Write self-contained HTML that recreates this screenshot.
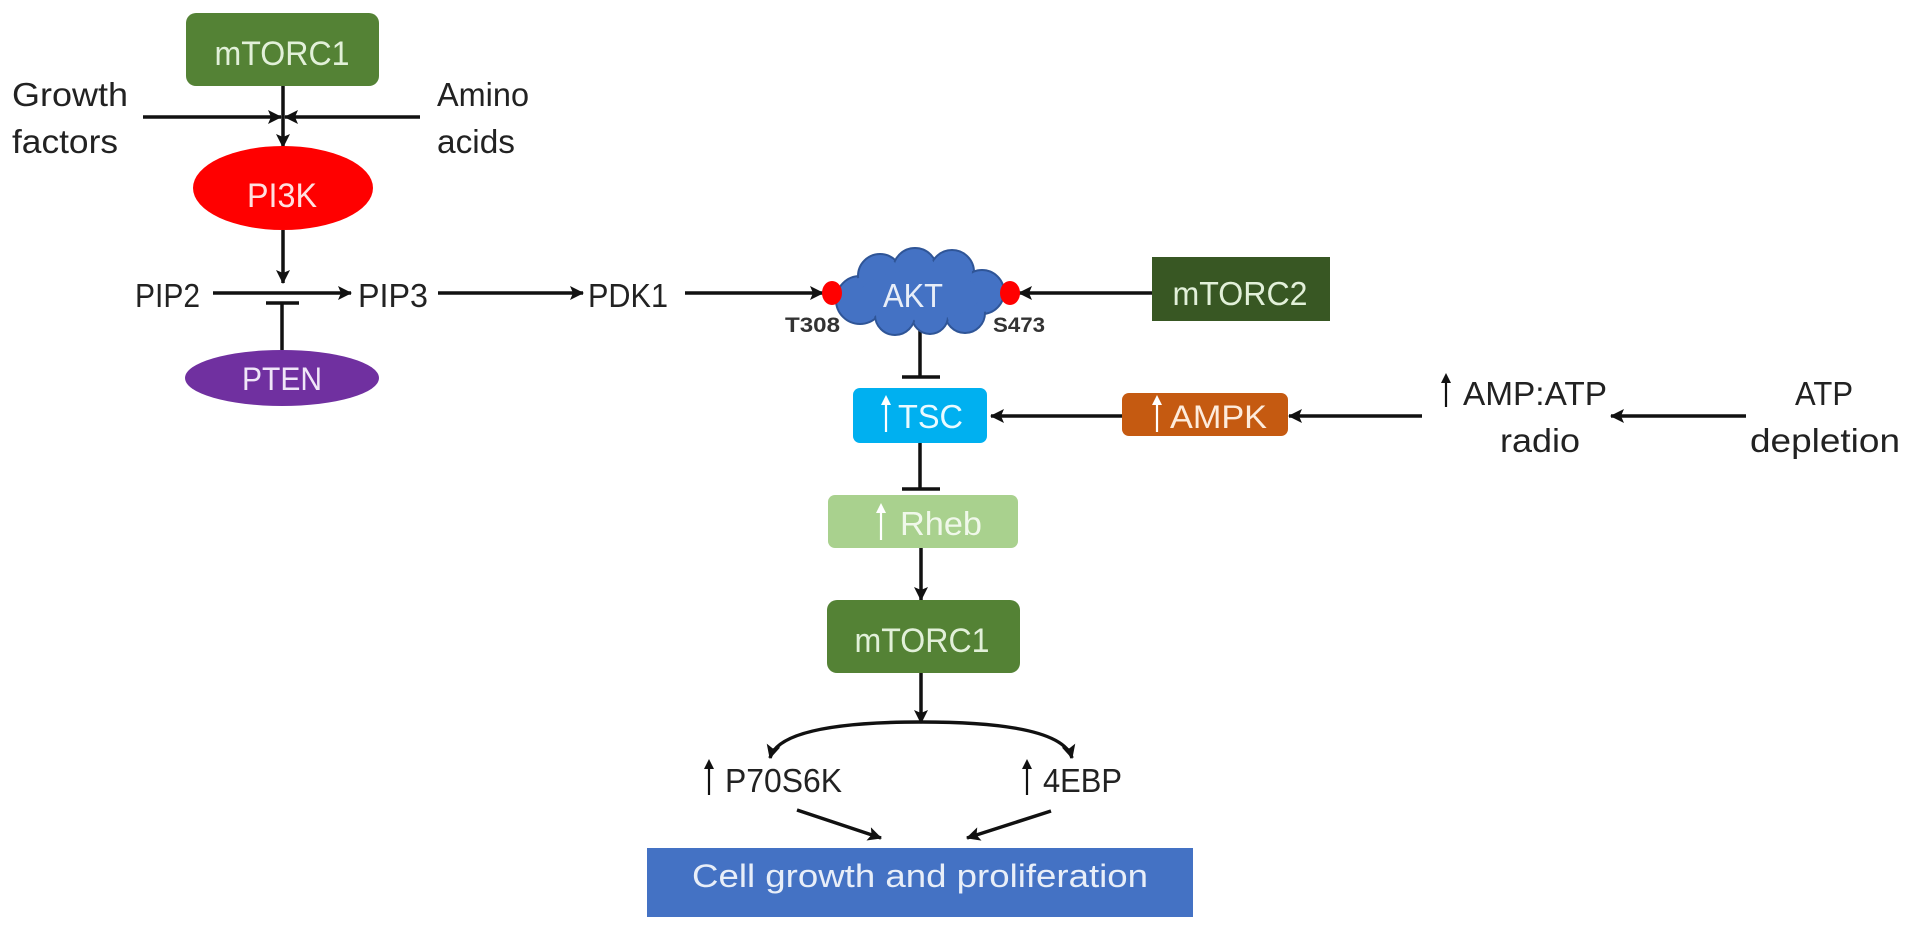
<!DOCTYPE html>
<html><head><meta charset="utf-8"><style>
html,body{margin:0;padding:0;background:#fff;}
svg{display:block;}
text{font-family:"Liberation Sans",sans-serif;}
</style></head><body>
<svg width="1913" height="930" viewBox="0 0 1913 930" xmlns="http://www.w3.org/2000/svg">
<defs>
<marker id="ah" markerWidth="14" markerHeight="14" refX="13" refY="7" orient="auto" markerUnits="userSpaceOnUse">
<path d="M0,0 L14,7 L0,14 L3,7 Z" fill="#111"/>
</marker>
</defs>
<g stroke="#111" stroke-width="3.5" fill="none">
<line x1="143" y1="117" x2="281" y2="117" marker-end="url(#ah)"/>
<line x1="420" y1="117" x2="285" y2="117" marker-end="url(#ah)"/>
<line x1="283" y1="86" x2="283" y2="147" marker-end="url(#ah)"/>
<line x1="283" y1="230" x2="283" y2="283" marker-end="url(#ah)"/>
<line x1="213" y1="293" x2="351" y2="293" marker-end="url(#ah)"/>
<line x1="438" y1="293" x2="583" y2="293" marker-end="url(#ah)"/>
<line x1="282" y1="303" x2="282" y2="350"/>
<line x1="266" y1="303" x2="299" y2="303"/>
<line x1="685" y1="293" x2="823" y2="293" marker-end="url(#ah)"/>
<line x1="1152" y1="293" x2="1019" y2="293" marker-end="url(#ah)"/>
<line x1="920" y1="330" x2="920" y2="377"/>
<line x1="902" y1="377" x2="940" y2="377"/>
<line x1="920" y1="443" x2="920" y2="489"/>
<line x1="902" y1="489" x2="940" y2="489"/>
<line x1="1122" y1="416" x2="991" y2="416" marker-end="url(#ah)"/>
<line x1="1422" y1="416" x2="1289" y2="416" marker-end="url(#ah)"/>
<line x1="1746" y1="416" x2="1611" y2="416" marker-end="url(#ah)"/>
<line x1="921" y1="548" x2="921" y2="600" marker-end="url(#ah)"/>
<line x1="921" y1="673" x2="921" y2="723" marker-end="url(#ah)"/>
<path d="M921,722 Q780,722 770,758" marker-end="url(#ah)"/>
<path d="M921,722 Q1062,722 1072,758" marker-end="url(#ah)"/>
<line x1="797" y1="810" x2="881" y2="838" marker-end="url(#ah)"/>
<line x1="1051" y1="811" x2="967" y2="838" marker-end="url(#ah)"/>
</g>
<rect x="186" y="13" width="193" height="73" rx="10" fill="#548235"/>
<text x="282" y="65" font-size="34" fill="#e2f0d9" text-anchor="middle" textLength="135" lengthAdjust="spacingAndGlyphs">mTORC1</text>
<ellipse cx="283" cy="188" rx="90" ry="42" fill="#ff0000"/>
<text x="282" y="207" font-size="34" fill="#ffe0e0" text-anchor="middle" textLength="70" lengthAdjust="spacingAndGlyphs">PI3K</text>
<ellipse cx="282" cy="378" rx="97" ry="28" fill="#7030a0"/>
<text x="282" y="390" font-size="32" fill="#f0e6f8" text-anchor="middle" textLength="80" lengthAdjust="spacingAndGlyphs">PTEN</text>

<g fill="#222" font-size="33">
<text x="12" y="106" textLength="116" lengthAdjust="spacingAndGlyphs">Growth</text>
<text x="12" y="153" textLength="106" lengthAdjust="spacingAndGlyphs">factors</text>
<text x="437" y="106" textLength="92" lengthAdjust="spacingAndGlyphs">Amino</text>
<text x="437" y="153" textLength="78" lengthAdjust="spacingAndGlyphs">acids</text>
<text x="135" y="307" textLength="65" lengthAdjust="spacingAndGlyphs">PIP2</text>
<text x="358" y="307" textLength="70" lengthAdjust="spacingAndGlyphs">PIP3</text>
<text x="588" y="307" textLength="80" lengthAdjust="spacingAndGlyphs">PDK1</text>
<text x="1463" y="405" textLength="144" lengthAdjust="spacingAndGlyphs">AMP:ATP</text>
<text x="1500" y="452" textLength="80" lengthAdjust="spacingAndGlyphs">radio</text>
<text x="1795" y="405" textLength="58" lengthAdjust="spacingAndGlyphs">ATP</text>
<text x="1750" y="452" textLength="150" lengthAdjust="spacingAndGlyphs">depletion</text>
<text x="725" y="792" textLength="117" lengthAdjust="spacingAndGlyphs">P70S6K</text>
<text x="1043" y="792" textLength="79" lengthAdjust="spacingAndGlyphs">4EBP</text>
</g>
<g fill="#333" font-size="21" font-weight="bold">
<text x="785" y="332" textLength="55" lengthAdjust="spacingAndGlyphs">T308</text>
<text x="993" y="332" textLength="52" lengthAdjust="spacingAndGlyphs">S473</text>
</g>
<g stroke="#111" stroke-width="2.2">
<line x1="1446" y1="407" x2="1446" y2="380"/>
<line x1="709" y1="795" x2="709" y2="766"/>
<line x1="1027" y1="795" x2="1027" y2="766"/>
</g>
<g fill="#111">
<path d="M1441,383 L1446,373 L1451,383Z"/>
<path d="M704,769 L709,759 L714,769Z"/>
<path d="M1022,769 L1027,759 L1032,769Z"/>
</g>

<g fill="#4472c4" stroke="#2f5597" stroke-width="2">
<circle cx="860" cy="300" r="24"/>
<circle cx="880" cy="276" r="22"/>
<circle cx="915" cy="270" r="22"/>
<circle cx="952" cy="272" r="22"/>
<circle cx="982" cy="292" r="22"/>
<circle cx="965" cy="313" r="20"/>
<circle cx="930" cy="316" r="18"/>
<circle cx="895" cy="315" r="20"/>
</g>
<g fill="#4472c4">
<circle cx="860" cy="300" r="22"/>
<circle cx="880" cy="276" r="20"/>
<circle cx="915" cy="270" r="20"/>
<circle cx="952" cy="272" r="20"/>
<circle cx="982" cy="292" r="20"/>
<circle cx="965" cy="313" r="18"/>
<circle cx="930" cy="316" r="16"/>
<circle cx="895" cy="315" r="18"/>
<ellipse cx="920" cy="295" rx="60" ry="25"/>
</g>
<text x="913" y="307" font-size="33" fill="#e8eef8" text-anchor="middle" textLength="60" lengthAdjust="spacingAndGlyphs">AKT</text>
<ellipse cx="832" cy="293" rx="10" ry="12" fill="#ff0000"/>
<ellipse cx="1010" cy="293" rx="10" ry="12" fill="#ff0000"/>

<rect x="1152" y="257" width="178" height="64" fill="#385723"/>
<text x="1240" y="305" font-size="33" fill="#e2f0d9" text-anchor="middle" textLength="135" lengthAdjust="spacingAndGlyphs">mTORC2</text>

<rect x="853" y="388" width="134" height="55" rx="7" fill="#00b0f0"/>
<text x="898" y="428" font-size="33" fill="#eafaff" textLength="65" lengthAdjust="spacingAndGlyphs">TSC</text>
<rect x="1122" y="393" width="166" height="43" rx="7" fill="#c55a11"/>
<text x="1170" y="428" font-size="32" fill="#fdebdc" textLength="97" lengthAdjust="spacingAndGlyphs">AMPK</text>
<rect x="828" y="495" width="190" height="53" rx="7" fill="#a9d18e"/>
<text x="900" y="535" font-size="33" fill="#f0f8ea" textLength="82" lengthAdjust="spacingAndGlyphs">Rheb</text>
<rect x="827" y="600" width="193" height="73" rx="10" fill="#548235"/>
<text x="922" y="652" font-size="34" fill="#e2f0d9" text-anchor="middle" textLength="135" lengthAdjust="spacingAndGlyphs">mTORC1</text>
<rect x="647" y="848" width="546" height="69" fill="#4472c4"/>
<text x="692" y="887" font-size="32" fill="#e8eef8" textLength="456" lengthAdjust="spacingAndGlyphs">Cell growth and proliferation</text>

<g stroke="#fff" stroke-width="2.2">
<line x1="886" y1="432" x2="886" y2="402"/>
<line x1="881" y1="540" x2="881" y2="510"/>
<line x1="1157" y1="432" x2="1157" y2="402"/>
</g>
<g fill="#fff">
<path d="M881,405 L886,395 L891,405Z"/>
<path d="M876,513 L881,503 L886,513Z"/>
<path d="M1152,405 L1157,395 L1162,405Z"/>
</g>
</svg>
</body></html>
